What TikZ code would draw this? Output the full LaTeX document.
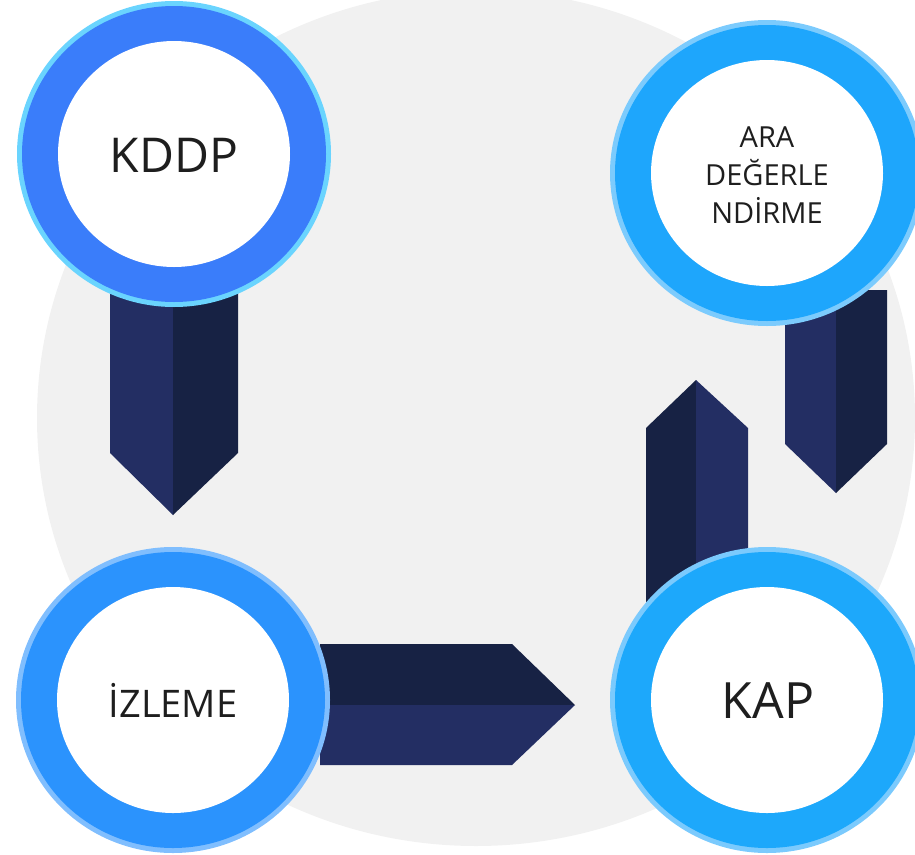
\documentclass[tikz,border=0pt]{standalone}
\usepackage{fontspec}
\setmainfont{Open Sans}
\definecolor{bggray}{HTML}{F1F1F1}
\definecolor{arrlight}{HTML}{232E63}
\definecolor{arrdark}{HTML}{172244}
\definecolor{ringA}{HTML}{3A7DFA}
\definecolor{edgeA}{HTML}{6AD4FE}
\definecolor{ringB}{HTML}{1EA6FC}
\definecolor{edgeB}{HTML}{7CCBFD}
\definecolor{ringC}{HTML}{2B93FD}
\definecolor{edgeC}{HTML}{80BEFE}
\definecolor{ringD}{HTML}{1DA8FB}
\definecolor{edgeD}{HTML}{7BCAFD}
\definecolor{txt}{HTML}{1E1E1E}
\tikzset{
  lbl/.style={inner sep=0pt, text=txt, align=center},
}
\newcommand{\ringat}[3]{%
  \fill[#3] (#1) ellipse [x radius=157, y radius=153];
  \fill[#2] (#1) ellipse [x radius=152, y radius=148];
  \fill[white] (#1) ellipse [x radius=116, y radius=113];
}
\begin{document}
\begin{tikzpicture}[x=1pt,y=-1pt]
\useasboundingbox (0,0) rectangle (915,854);
\clip (0,0) rectangle (915,854);
% background
\fill[bggray] (476,418) ellipse [x radius=439, y radius=428];
% centers
\coordinate (cA) at (174,154);
\coordinate (cB) at (767,173);
\coordinate (cC) at (173,700);
\coordinate (cD) at (767,700);
% arrow KDDP -> IZLEME (down)
\fill[arrlight] (110,290) -- (173,290) -- (173,515) -- (110,453) -- cycle;
\fill[arrdark] (173,290) -- (238,290) -- (238,453) -- (173,515) -- cycle;
% arrow IZLEME -> KAP (right)
\fill[arrdark] (320,644) -- (512,644) -- (575,705) -- (320,705) -- cycle;
\fill[arrlight] (320,705) -- (575,705) -- (512,765) -- (320,765) -- cycle;
% arrow KAP -> ARA (up)
\fill[arrdark] (646,640) -- (646,428) -- (696,380) -- (696,640) -- cycle;
\fill[arrlight] (696,640) -- (696,380) -- (748,428) -- (748,640) -- cycle;
% arrow ARA -> down
\fill[arrlight] (785,290) -- (836,290) -- (836,493) -- (785,444) -- cycle;
\fill[arrdark] (836,290) -- (887,290) -- (887,444) -- (836,493) -- cycle;
% circles
\ringat{cA}{ringA}{edgeA}
\ringat{cB}{ringB}{edgeB}
\ringat{cC}{ringC}{edgeC}
\ringat{cD}{ringD}{edgeD}
% labels
\node[lbl, font=\fontsize{48}{56}\selectfont] (kddp) at (174,155) {KDDP};
\node[lbl, font=\fontsize{29}{38}\selectfont] (ara) at (767,175) {ARA\\DEĞERLE\\NDİRME};
\node[lbl, font=\fontsize{38}{44}\selectfont] (izleme) at (173,700) {İZLEME};
\node[lbl, font=\fontsize{50}{58}\selectfont] (kap) at (768,701) {KAP};
\end{tikzpicture}
\end{document}
